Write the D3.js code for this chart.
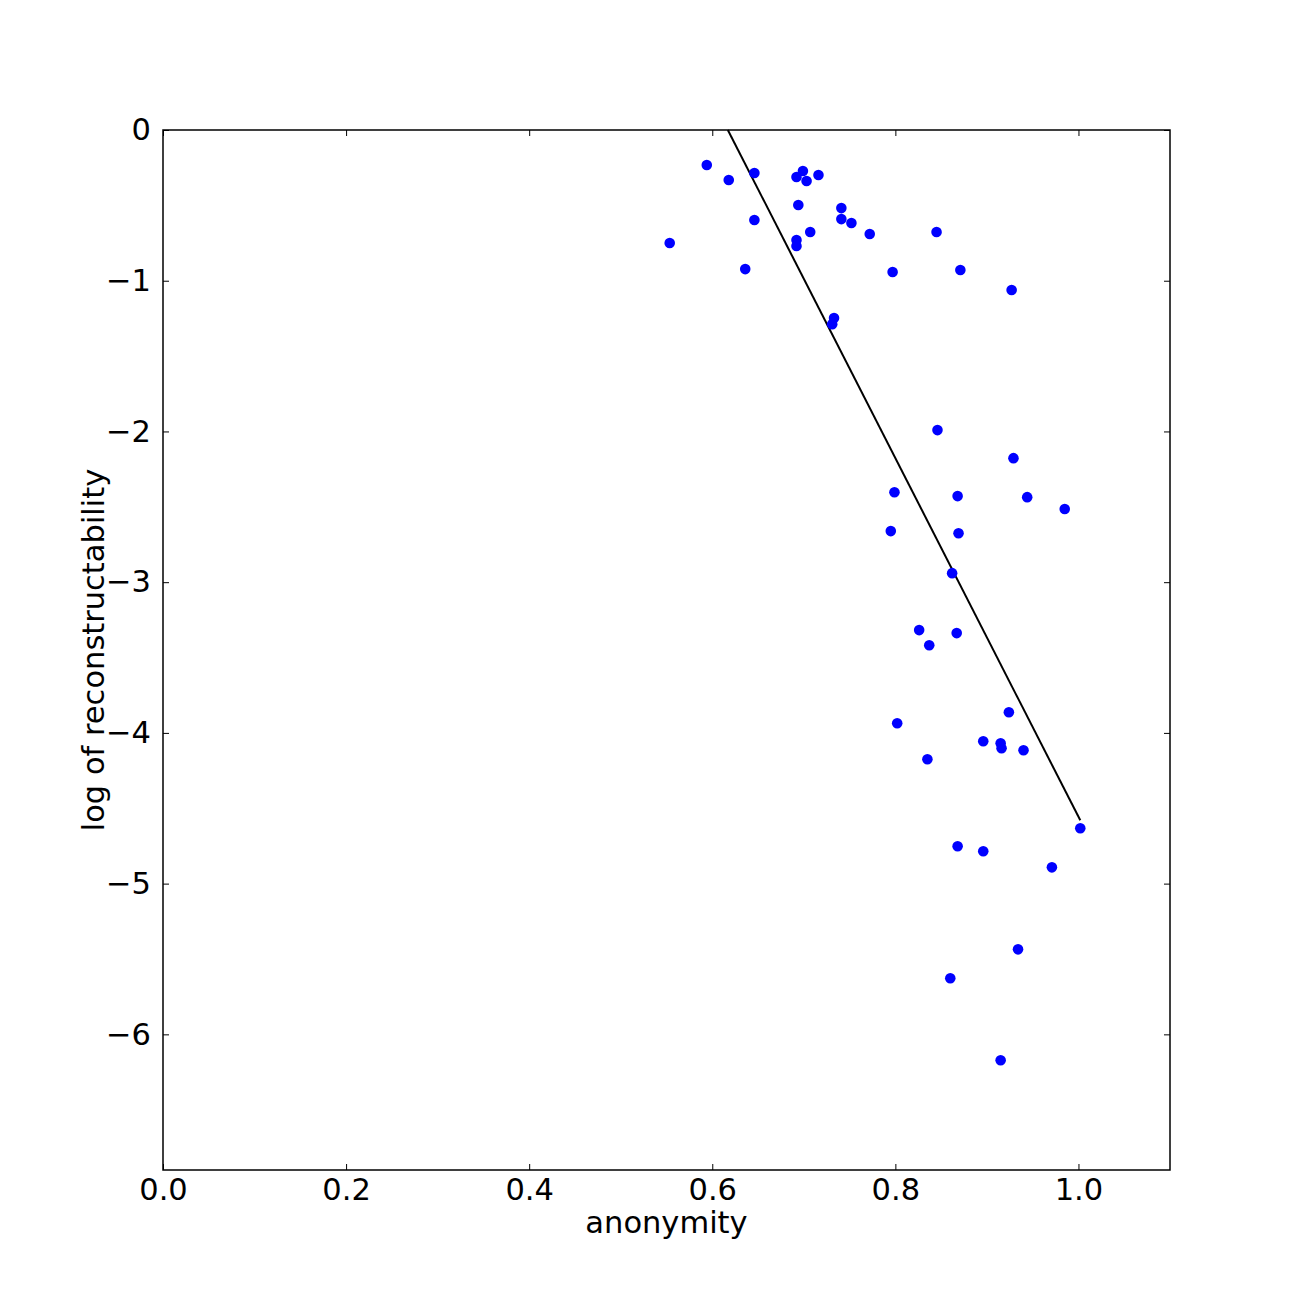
<!DOCTYPE html>
<html><head><meta charset="utf-8">
<script src="https://cdn.jsdelivr.net/npm/d3@7"></script>
<style>body{margin:0;background:#fff}svg{display:block}</style>
</head><body>
<script>
const anonymity = [0.5535,0.594,0.618,0.646,0.646,0.636,0.692,0.699,0.703,0.716,0.694,0.692,0.692,0.707,0.741,0.741,0.752,0.772,0.845,0.797,0.871,0.927,0.733,0.731,0.846,0.929,0.799,0.868,0.944,0.985,0.795,0.869,0.862,0.826,0.867,0.837,0.802,0.924,0.896,0.915,0.916,0.940,0.835,1.002,0.868,0.896,0.971,0.934,0.860,0.915];
const logRecon = [-0.75,-0.232,-0.332,-0.285,-0.597,-0.923,-0.312,-0.272,-0.338,-0.299,-0.498,-0.730,-0.770,-0.677,-0.518,-0.591,-0.617,-0.690,-0.677,-0.942,-0.929,-1.062,-1.248,-1.288,-1.991,-2.177,-2.403,-2.429,-2.436,-2.515,-2.661,-2.675,-2.940,-3.318,-3.338,-3.418,-3.936,-3.863,-4.055,-4.069,-4.102,-4.115,-4.175,-4.633,-4.752,-4.785,-4.892,-5.436,-5.628,-6.172];
const fitX = [0.617, 1.002];
const fitY = [0, -4.58];
const xTicks = [0,0.2,0.4,0.6,0.8,1.0];
const yTicks = [0,-1,-2,-3,-4,-5,-6];

(function(){
const W=1300,H=1300, L=163, R=1170, T=130, B=1170;
const FS = "30.5px";
const svg = d3.select("body").append("svg").attr("width",W).attr("height",H);
const x = d3.scaleLinear().domain([0,1.1]).range([L,R]);
const y = d3.scaleLinear().domain([-6.9,0]).range([B,T]);
const font = "DejaVu Sans, sans-serif";
const fmtY = d => d===0 ? "0" : "\u2212"+Math.abs(d);

const g = svg.append("g");
g.append("path").datum(fitX.map((v,i)=>[v,fitY[i]]))
 .attr("d", d3.line().x(d=>x(d[0])).y(d=>y(d[1])))
 .attr("stroke","#000").attr("stroke-width",2).attr("fill","none");
g.selectAll("circle").data(anonymity.map((v,i)=>[v,logRecon[i]])).enter().append("circle")
 .attr("cx",d=>x(d[0])).attr("cy",d=>y(d[1])).attr("r",5.3).attr("fill","#0000ff");

const styleText = (sel)=>sel.selectAll("text").attr("font-family",font).attr("font-size",FS).attr("fill","#000");
const axBottom = svg.append("g").attr("transform",`translate(0,${B})`)
 .call(d3.axisBottom(x).tickValues(xTicks).tickFormat(d3.format(".1f")).tickSizeInner(-6).tickSizeOuter(0).tickPadding(8));
const axTop = svg.append("g").attr("transform",`translate(0,${T})`)
 .call(d3.axisTop(x).tickValues(xTicks).tickFormat("").tickSizeInner(-6).tickSizeOuter(0));
const axLeft = svg.append("g").attr("transform",`translate(${L},0)`)
 .call(d3.axisLeft(y).tickValues(yTicks).tickFormat(fmtY).tickSizeInner(-6).tickSizeOuter(0).tickPadding(12));
const axRight = svg.append("g").attr("transform",`translate(${R},0)`)
 .call(d3.axisRight(y).tickValues(yTicks).tickFormat("").tickSizeInner(-6).tickSizeOuter(0));
[axBottom,axTop,axLeft,axRight].forEach(a=>{a.select(".domain").remove(); a.selectAll("line").attr("stroke","#000").attr("stroke-width",1); styleText(a);});
svg.append("rect").attr("x",L).attr("y",T).attr("width",R-L).attr("height",B-T)
 .attr("fill","none").attr("stroke","#000").attr("stroke-width",1.5);

svg.append("text").attr("x",(L+R)/2).attr("y",1233).attr("text-anchor","middle")
 .attr("font-family",font).attr("font-size",FS).text("anonymity");
svg.append("text").attr("transform",`translate(104,${(T+B)/2}) rotate(-90)`).attr("text-anchor","middle")
 .attr("font-family",font).attr("font-size",FS).text("log of reconstructability");
})();
</script>
</body></html>
